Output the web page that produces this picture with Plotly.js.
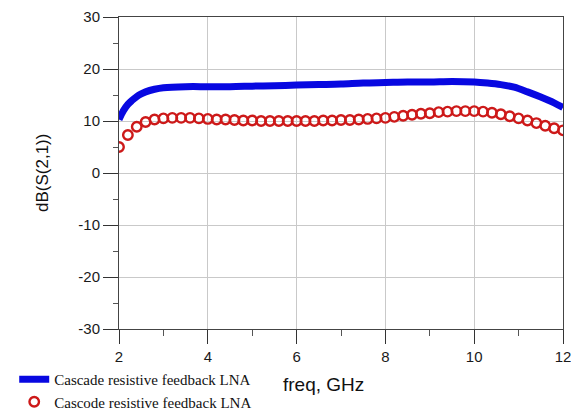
<!DOCTYPE html>
<html>
<head>
<meta charset="utf-8">
<script src="https://cdn.plot.ly/plotly-3.0.1.min.js"></script>
<style>
html,body{margin:0;padding:0;background:#fff;}
#chart{width:571px;height:414px;}
</style>
</head>
<body>
<div id="chart"></div>
<script>
// Series 1: Cascade resistive feedback LNA (blue)
const freqBlue = [2.0,2.1,2.2,2.3,2.4,2.5,2.6,2.8,3.0,3.5,4.0,4.5,5.0,5.5,6.0,6.5,7.0,7.5,8.0,8.5,9.0,9.5,10.0,10.3,10.6,10.9,11.2,11.5,11.8,12.0];
const s21Blue  = [10.3,12.0,13.2,14.0,14.7,15.2,15.6,16.1,16.4,16.6,16.6,16.6,16.7,16.8,16.9,17.0,17.1,17.3,17.4,17.5,17.5,17.6,17.5,17.3,17.0,16.5,15.6,14.6,13.5,12.6];

// Series 2: Cascode resistive feedback LNA (red circles)
const freqRed = [2.0,2.2,2.4,2.6,2.8,3.0,3.2,3.4,3.6,3.8,4.0,4.2,4.4,4.6,4.8,5.0,5.2,5.4,5.6,5.8,6.0,6.2,6.4,6.6,6.8,7.0,7.2,7.4,7.6,7.8,8.0,8.2,8.4,8.6,8.8,9.0,9.2,9.4,9.6,9.8,10.0,10.2,10.4,10.6,10.8,11.0,11.2,11.4,11.6,11.8,12.0];
const s21Red  = [5.0,7.3,8.9,9.8,10.3,10.5,10.6,10.6,10.6,10.5,10.4,10.3,10.3,10.2,10.1,10.1,10.0,10.0,10.0,10.0,10.0,10.0,10.0,10.1,10.1,10.2,10.2,10.3,10.4,10.5,10.6,10.8,11.0,11.2,11.4,11.5,11.7,11.8,11.9,11.9,11.9,11.8,11.6,11.3,10.9,10.5,10.1,9.6,9.1,8.6,8.2];

const seriesNames = ["Cascade resistive feedback LNA", "Cascode resistive feedback LNA"];
const xTickVals = [2,4,6,8,10,12];
const yTickVals = [-30,-20,-10,0,10,20,30];
const xTitle = "freq, GHz";
const yTitle = "dB(S(2,1))";

const traces = [
  {
    x: freqBlue, y: s21Blue, name: seriesNames[0],
    type: "scatter", mode: "lines",
    line: {color: "rgb(8,8,225)", width: 7, shape: "spline"},
    cliponaxis: true
  },
  {
    x: freqRed, y: s21Red, name: seriesNames[1],
    type: "scatter", mode: "markers",
    marker: {symbol: "circle-open", size: 9.5, color: "rgb(205,25,25)", line: {width: 2.4, color: "rgb(205,25,25)"}},
    cliponaxis: true
  }
];

const tickFont = {family: "Liberation Sans, Arial, sans-serif", size: 15, color: "#1a1a1a"};

const layout = {
  width: 571, height: 414,
  margin: {l: 119, r: 8, t: 17, b: 85, autoexpand: false},
  paper_bgcolor: "#fff", plot_bgcolor: "#fff",
  showlegend: true,
  legend: {
    x: -0.236, xanchor: "left", y: -0.109, yanchor: "top",
    font: {family: "Liberation Serif, Times New Roman, serif", size: 15, color: "#111"},
    bgcolor: "rgba(0,0,0,0)", tracegroupgap: 0, itemwidth: 30
  },
  xaxis: {
    range: [2, 12], tickvals: xTickVals, ticktext: xTickVals.map(String),
    ticks: "outside", ticklen: 14, tickcolor: "#333", tickwidth: 1,
    minor: {dtick: 1, ticks: "outside", ticklen: 6, tickcolor: "#555", showgrid: false},
    showgrid: true, gridcolor: "#c9c9c9", gridwidth: 1,
    showline: true, linecolor: "#444", linewidth: 1, mirror: true,
    zeroline: false, tickfont: tickFont, ticklabeloverflow: "allow"
  },
  yaxis: {
    range: [-30, 30], tickvals: yTickVals, ticktext: yTickVals.map(String),
    ticks: "outside", ticklen: 15, tickcolor: "#333", tickwidth: 1,
    minor: {dtick: 5, ticks: "outside", ticklen: 5, tickcolor: "#555", showgrid: false},
    showgrid: true, gridcolor: "#c9c9c9", gridwidth: 1,
    showline: true, linecolor: "#444", linewidth: 1, mirror: true,
    zeroline: false, tickfont: tickFont, ticklabeloverflow: "allow"
  },
  annotations: [
    {text: xTitle, xref: "paper", yref: "paper", x: (323-119)/444, y: (329-384)/312,
     xanchor: "center", yanchor: "middle", showarrow: false,
     font: {family: "Liberation Sans, Arial, sans-serif", size: 19, color: "#111"}},
    {text: yTitle, xref: "paper", yref: "paper", x: (42-119)/444, y: 0.5, textangle: -90,
     xanchor: "center", yanchor: "middle", showarrow: false,
     font: {family: "Liberation Sans, Arial, sans-serif", size: 17, color: "#111"}}
  ]
};

Plotly.newPlot("chart", traces, layout, {displayModeBar: false, staticPlot: true});
</script>
</body>
</html>
